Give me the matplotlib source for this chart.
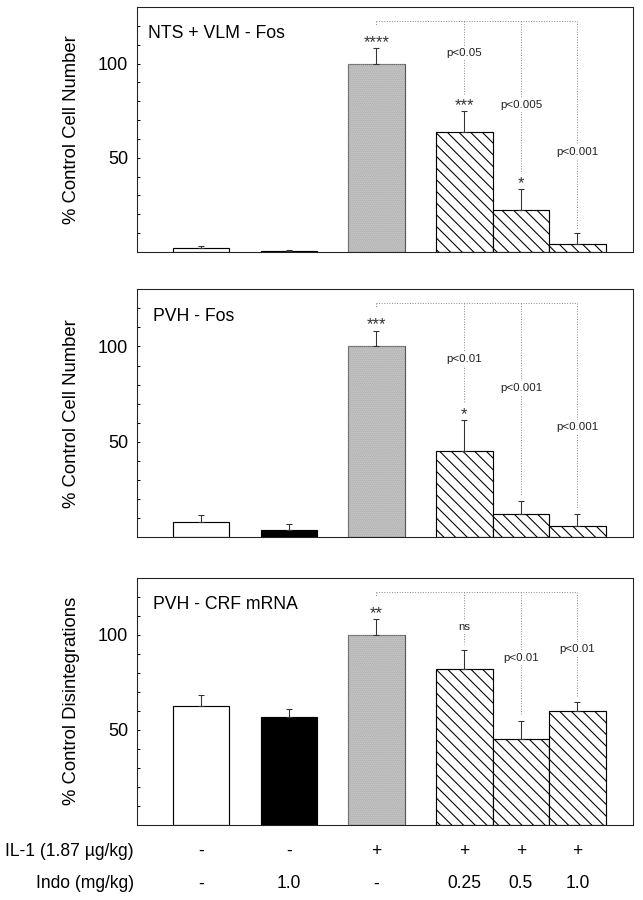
import numpy as np
import matplotlib.pyplot as plt
from matplotlib.ticker import FixedLocator
from matplotlib.transforms import blended_transform_factory

plt.rcParams['font.family'] = ['Liberation Sans', 'DejaVu Sans']
plt.rcParams['hatch.linewidth'] = 1.1

# Данные
il1_row = ['-', '-', '+', '+', '+', '+']
indo_row = ['-', '1.0', '-', '0.25', '0.5', '1.0']

panel_titles = ['NTS + VLM - Fos', 'PVH - Fos', 'PVH - CRF mRNA']
y_labels = ['% Control Cell Number', '% Control Cell Number', '% Control Disintegrations']

nts_fos_mean = [2, 0.5, 100, 63.5, 22.5, 4.5]
nts_fos_sem = [1.2, 0.3, 8, 11.5, 11, 5.5]
nts_fos_stars = ['', '', '****', '***', '*', '']
nts_fos_p = ['p<0.05', 'p<0.005', 'p<0.001']

pvh_fos_mean = [8, 4, 100, 45.2, 12.3, 6.1]
pvh_fos_sem = [3.8, 3, 8.3, 16.2, 6.9, 6.2]
pvh_fos_stars = ['', '', '***', '*', '', '']
pvh_fos_p = ['p<0.01', 'p<0.001', 'p<0.001']

pvh_crf_mean = [62.8, 56.6, 100, 81.8, 45.4, 60.1]
pvh_crf_sem = [5.7, 4.4, 8.4, 10.4, 9.4, 4.4]
pvh_crf_stars = ['', '', '**', '', '', '']
pvh_crf_p = ['ns', 'p<0.01', 'p<0.01']

panels = [
    (nts_fos_mean, nts_fos_sem, nts_fos_stars, nts_fos_p),
    (pvh_fos_mean, pvh_fos_sem, pvh_fos_stars, pvh_fos_p),
    (pvh_crf_mean, pvh_crf_sem, pvh_crf_stars, pvh_crf_p),
]

# Раскладка
xpos = np.array([1.13, 2.69, 4.24, 5.80, 6.80, 7.80])
faces = ['white', 'black', '#c9c9c9', 'white', 'white', 'white']
hatches = [None, None, None, '\\\\', '\\\\', '\\\\']
edges = ['black', 'black', '#555555', 'black', 'black', 'black']
p_heights = [[105.6, 78, 53], [93.2, 78.2, 57.9], [103.9, 87.9, 92.5]]
title_x = [0.022, 0.032, 0.032]
ax_rects = [[0.213, 0.720, 0.771, 0.2722],
            [0.213, 0.4028, 0.771, 0.276],
            [0.213, 0.0833, 0.771, 0.2748]]
bracket_y = 122.5

fig = plt.figure(figsize=(643 / 70, 900 / 70), dpi=70)

for i, (mean, sem, stars, plabels) in enumerate(panels):
    ax = fig.add_axes(ax_rects[i])
    mean = np.array(mean)
    sem = np.array(sem)
    for j in range(6):
        ax.bar(xpos[j], mean[j], width=1.0, color=faces[j], edgecolor=edges[j],
               hatch=hatches[j], linewidth=1.2, zorder=2)
    # точечная текстура серого столбца
    ax.bar(xpos[2], mean[2], width=1.0, color='none', edgecolor='#a8a8a8',
           hatch='......', linewidth=0, zorder=2.1)
    ax.errorbar(xpos, mean, yerr=[np.zeros(6), sem], fmt='none', ecolor='#333333',
                elinewidth=1.1, capsize=3, capthick=1.1, zorder=3)
    tops = mean + sem

    # звёздочки
    for j in range(6):
        if stars[j]:
            ax.text(xpos[j], tops[j] + 0.5, stars[j], ha='center', va='baseline',
                    fontsize=17, color='#333333', zorder=4)

    # пунктирные скобки
    ax.plot([xpos[2], xpos[5]], [bracket_y, bracket_y], ls=':', color='#888888', lw=1.0, zorder=1)
    ax.plot([xpos[2], xpos[2]], [bracket_y, tops[2] + 12], ls=':', color='#888888', lw=1.0, zorder=1)
    for k, j in enumerate([3, 4, 5]):
        end = tops[j] + (9 if stars[j] else 3)
        ax.plot([xpos[j], xpos[j]], [bracket_y, end], ls=':', color='#888888', lw=1.0, zorder=1)
        ax.text(xpos[j], p_heights[i][k], plabels[k], ha='center', va='center', fontsize=11.8,
                color='#222222', zorder=4,
                bbox=dict(facecolor='white', edgecolor='none', pad=2))

    ax.set_xlim(0, 8.78)
    ax.set_ylim(0, 130)
    ax.set_xticks([])
    ax.yaxis.set_major_locator(FixedLocator([50, 100]))
    ax.yaxis.set_minor_locator(FixedLocator(list(range(10, 130, 10))))
    ax.tick_params(axis='y', which='both', direction='in', length=3.5, width=1,
                   labelsize=18.5, pad=9)
    ax.set_ylabel(y_labels[i], fontsize=19)
    ax.yaxis.set_label_coords(-0.115, 0.5)
    for s in ax.spines.values():
        s.set_linewidth(1.1)
        s.set_color('#222222')
    ax.text(title_x[i], 0.89, panel_titles[i], transform=ax.transAxes, ha='left',
            va='center', fontsize=18.2)

# подписи снизу
trans = blended_transform_factory(ax.transData, fig.transFigure)
fig.text(134 / 643, 1 - 851 / 900, 'IL-1 (1.87 \u00b5g/kg)', ha='right', va='center', fontsize=18)
fig.text(134 / 643, 1 - 884 / 900, 'Indo (mg/kg)', ha='right', va='center', fontsize=18)
for j in range(6):
    ax.text(xpos[j], 1 - 851 / 900, il1_row[j], transform=trans, ha='center', va='center', fontsize=18)
    ax.text(xpos[j], 1 - 884 / 900, indo_row[j], transform=trans, ha='center', va='center', fontsize=18)

fig.savefig('out.png', dpi=70)
